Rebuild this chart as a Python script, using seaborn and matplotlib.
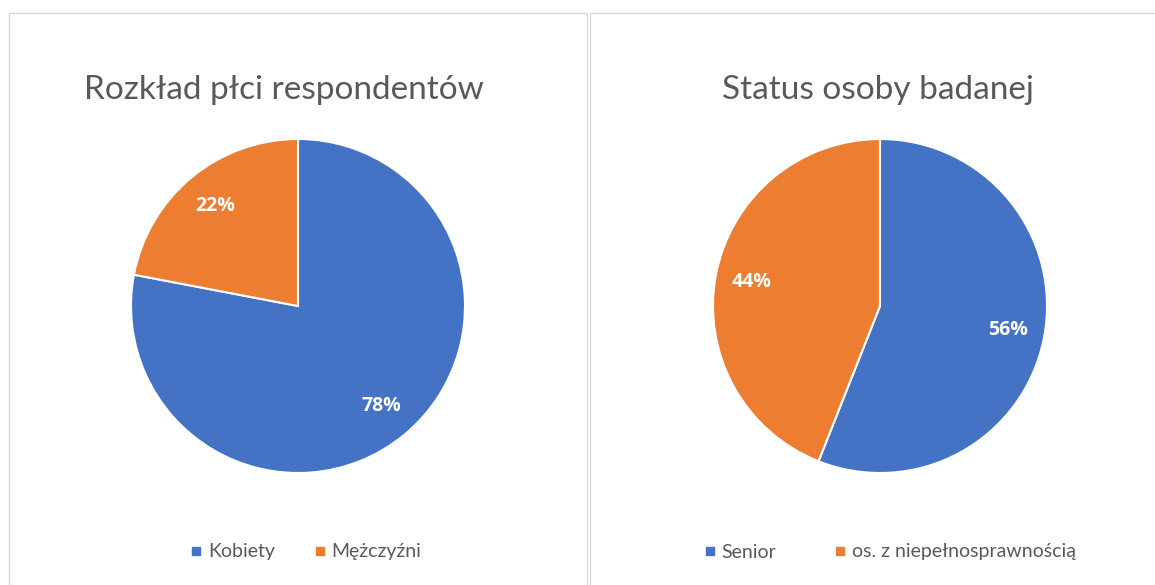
import matplotlib
matplotlib.use("Agg")
import matplotlib.pyplot as plt
import seaborn as sns
from matplotlib.lines import Line2D
from matplotlib.patches import Rectangle

# Data
titles = ["Rozkład płci respondentów", "Status osoby badanej"]
labels_gender = ["Kobiety", "Mężczyźni"]
values_gender = [78, 22]
labels_status = ["Senior", "os. z niepełnosprawnością"]
values_status = [56, 44]

sns.set_theme(style="white")
plt.rcParams['font.family'] = ['Lato', 'DejaVu Sans']
colors = ["#4472C4", "#ED7D31"]
gray = "#595959"

W, H = 1155, 585
fig = plt.figure(figsize=(W / 100, H / 100), dpi=100)

# panel borders
for x0, x1 in [(9, 587), (590, 1160)]:
    fig.patches.append(Rectangle((x0 / W, -0.05), (x1 - x0) / W, (H - 13) / H + 0.05,
                                 transform=fig.transFigure, fill=False,
                                 edgecolor="#D9D9D9", linewidth=1.0))

panels = [
    (298, labels_gender, values_gender, titles[0], 284, 304, 1.8),
    (880, labels_status, values_status, titles[1], 878, 888, 2.8),
]
R = 167
cy = 306
for cx, labs, vals, title, tx, lx, cs in panels:
    ax = fig.add_axes([(cx - R) / W, (H - cy - R) / H, 2 * R / W, 2 * R / H])
    wedges, texts, autotexts = ax.pie(
        vals, colors=colors, startangle=90, counterclock=False,
        autopct=lambda p: f"{p:.0f}%", pctdistance=0.78,
        wedgeprops=dict(edgecolor="white", linewidth=1.5),
        textprops=dict(color="white", fontsize=14, fontweight="bold",
                       family=["Open Sans", "DejaVu Sans"]))
    ax.set_xlim(-1, 1)
    ax.set_ylim(-1, 1)
    ax.set_aspect("auto")
    ax.axis("off")
    fig.text(tx / W, (H - 90) / H, title, ha="center", va="center",
             fontsize=24, color=gray)
    handles = [Line2D([0], [0], marker="s", linestyle="none", markersize=6,
                      markerfacecolor=c, markeredgecolor=c) for c in colors]
    fig.legend(handles, labs, loc="center", bbox_to_anchor=(lx / W, (H - 552) / H),
               ncol=2, frameon=False, fontsize=14, labelcolor=gray,
               handletextpad=0.1, columnspacing=cs, handlelength=1.0)

fig.savefig("out.png", dpi=100, facecolor="white")
